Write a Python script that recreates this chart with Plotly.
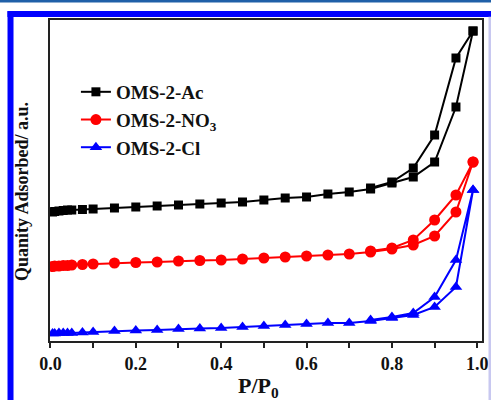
import plotly.graph_objects as go

# Relative pressure points (adsorption branch, then desorption branch)
p_ads = [0.005, 0.01, 0.02, 0.03, 0.04, 0.05, 0.075, 0.1, 0.15, 0.2, 0.25, 0.3, 0.35,
         0.4, 0.45, 0.5, 0.55, 0.6, 0.65, 0.7, 0.75, 0.8, 0.85, 0.9, 0.95, 0.99]
p_des = [0.99, 0.95, 0.9, 0.85, 0.8, 0.75]

# Quantity adsorbed (a.u.)
ac_ads = [129, 129.5, 130, 130.5, 131, 131, 131.5, 132, 133, 134, 135, 136, 137,
          138, 139, 141, 143, 144, 147, 149, 152, 158, 164, 179, 234, 310]
ac_des = [310, 283, 206, 173, 159, 153]

no3_ads = [74.5, 75, 75, 75.5, 75.5, 76, 76.5, 77, 78, 78.5, 79, 80, 80.5,
           81, 82, 83, 84, 85, 86, 87, 89, 92, 96, 105, 129, 179]
no3_des = [179, 146, 121, 101, 93, 90]

cl_ads = [7.5, 7.5, 8, 8, 8, 8, 8.5, 9, 10, 10.5, 11, 12, 12.5,
          13, 14, 15, 16, 17, 18, 18, 20, 23, 26, 34, 54, 151]
cl_des = [151, 81, 44, 28, 24, 21]

names = ["OMS-2-Ac", "OMS-2-NO<sub>3</sub>", "OMS-2-Cl"]
colors = ["#000000", "#ff0000", "#0000ff"]
symbols = ["square", "circle", "triangle-up"]
sizes = [9, 11, 11]
series = [(ac_ads, ac_des), (no3_ads, no3_des), (cl_ads, cl_des)]

xticks = [0.0, 0.2, 0.4, 0.6, 0.8, 1.0]

FONT = "Liberation Serif"

fig = go.Figure()
for i, (ads, des) in enumerate(series):
    fig.add_trace(go.Scatter(
        x=p_ads + p_des, y=ads + des, mode="lines+markers", name=f"<b>{names[i]}</b>",
        legendgroup=f"g{i}",
        line=dict(color=colors[i], width=2),
        marker=dict(symbol=symbols[i], size=sizes[i], color=colors[i]),
    ))

fig.update_layout(
    width=491, height=400,
    margin=dict(l=50, r=9, t=20, b=59, autoexpand=False),
    paper_bgcolor="white", plot_bgcolor="white",
    font=dict(family=FONT, color="#111111"),
    showlegend=True,
    legend=dict(x=0.06, y=0.835, xanchor="left", yanchor="top",
                bgcolor="rgba(0,0,0,0)", tracegroupgap=0, traceorder="grouped",
                font=dict(family=FONT, size=19, color="#111111"),
                title=None),
    xaxis=dict(range=[-0.001, 1.011], tickvals=xticks,
               ticktext=[f"<b>{v:.1f}</b>" for v in xticks],
               ticks="outside", ticklen=5, tickwidth=1.5, tickcolor="#222222",
               minor=dict(dtick=0.1, tick0=0, ticks="outside", ticklen=5,
                          tickwidth=1.5, tickcolor="#222222"),
               showline=True, linecolor="#222222", linewidth=2, mirror=True,
               showgrid=False, zeroline=False, automargin=False,
               tickfont=dict(family=FONT, size=18, color="#111111")),
    yaxis=dict(range=[0, 321], showticklabels=False, ticks="",
               showline=True, linecolor="#222222", linewidth=2, mirror=True,
               showgrid=False, zeroline=False, automargin=False),
)

# axis titles
fig.add_annotation(xref="paper", yref="paper", x=(258 - 50) / 432, y=(341 - 387) / 321,
                   text="<b>P/P<sub>0</sub></b>", showarrow=False,
                   xanchor="center", yanchor="middle",
                   font=dict(family=FONT, size=22, color="#111111"))
fig.add_annotation(xref="paper", yref="paper", x=(22 - 50) / 432, y=(341 - 192) / 321,
                   text="<b>Quanity Adsorbed/ a.u.</b>", showarrow=False, textangle=-90,
                   xanchor="center", yanchor="middle",
                   font=dict(family=FONT, size=18, color="#111111"))

# decorative frame around the figure
fig.add_shape(type="line", xref="paper", yref="paper", x0=-0.3, x1=1.2,
              y0=1.0592, y1=1.0592, line=dict(color="#2060a8", width=3))
fig.add_shape(type="line", xref="paper", yref="paper", x0=-0.0985, x1=1.2,
              y0=1.0187, y1=1.0187, line=dict(color="#0000ff", width=6))
fig.add_shape(type="line", xref="paper", yref="paper", x0=-0.0914, x1=-0.0914,
              y0=-0.3, y1=1.027, line=dict(color="#0000ff", width=6))
fig.add_shape(type="line", xref="paper", yref="paper", x0=1.0185, x1=1.0185,
              y0=-0.3, y1=1.01, line=dict(color="#c8c8f0", width=3))

fig.write_html("out.html", config={"displayModeBar": False},
               post_script="document.body.style.margin='0';document.body.style.overflow='hidden';")
